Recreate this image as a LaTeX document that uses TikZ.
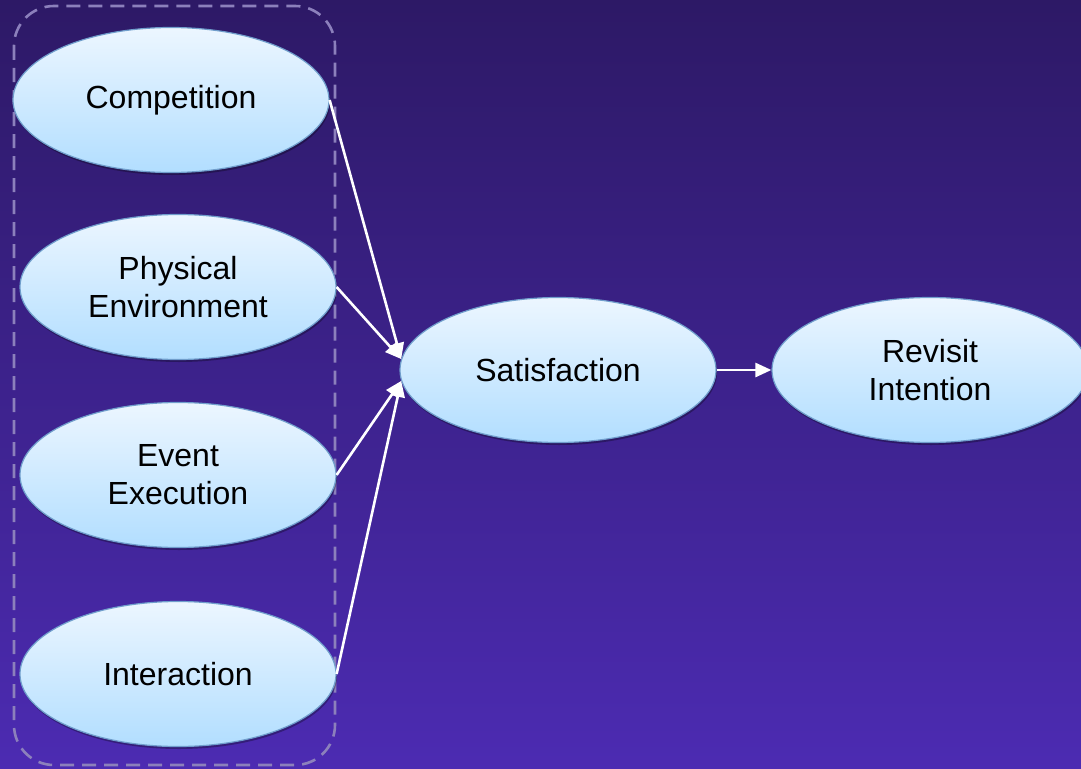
\documentclass[tikz,border=0pt]{standalone}
\usepackage{fontspec}
\setmainfont{Liberation Sans}
\usetikzlibrary{positioning,shapes.geometric,shadows,arrows.meta}
\definecolor{bgTop}{RGB}{45,25,102}
\definecolor{bgBottom}{RGB}{76,43,178}
\definecolor{ellipseTop}{RGB}{236,246,255}
\definecolor{ellipseBottom}{RGB}{178,222,255}
\definecolor{ellipseBorder}{RGB}{112,158,204}
\definecolor{groupColor}{RGB}{140,128,188}
\tikzstyle{diagram} = [x = 1pt, y = -1pt]
\tikzstyle{factorStyle} = [ellipse, draw=ellipseBorder, line width=1.2pt, top color=ellipseTop, bottom color=ellipseBottom, minimum width=316pt, minimum height=145pt, inner sep=0pt, align=center, font=\fontsize{32}{38}\selectfont, drop shadow={shadow xshift=1pt, shadow yshift=-2.5pt, opacity=.3, fill=black}]
\tikzstyle{pathArrow} = [draw=white, line width=2.6pt, -{Triangle[length=16pt, width=14pt]}]
\tikzstyle{groupBox} = [draw=groupColor, line width=2.6pt, rounded corners=40pt, dash pattern=on 14pt off 8pt]
\newcommand{\factor}[4]{\node [factorStyle] (#1) at (#2, #3) {#4};}

\begin{document}
\begin{tikzpicture}[diagram]
        \useasboundingbox (0,0) rectangle (1081,768);
        \shade [top color=bgTop, bottom color=bgBottom] (0,0) rectangle (1081,768);
        \draw [groupBox] (14,6) rectangle (335,765);

        % antecedents
        \factor{competition}{171}{100}{Competition}
        \factor{physical}{178}{287}{Physical\\Environment}
        \factor{event}{178}{475}{Event\\Execution}
        \factor{interaction}{178}{674}{Interaction}

        % outcomes
        \factor{satisfaction}{558}{370}{Satisfaction}
        \factor{revisit}{930}{370}{Revisit\\Intention}

        \draw [pathArrow] (competition.east) -- (satisfaction.176);
        \draw [pathArrow] (physical.east) -- (satisfaction.176);
        \draw [pathArrow] (event.east) -- (satisfaction.184);
        \draw [pathArrow] (interaction.east) -- (satisfaction.184);
        \draw [pathArrow] (satisfaction.east) -- (revisit.west);
      \end{tikzpicture}
\end{document}
